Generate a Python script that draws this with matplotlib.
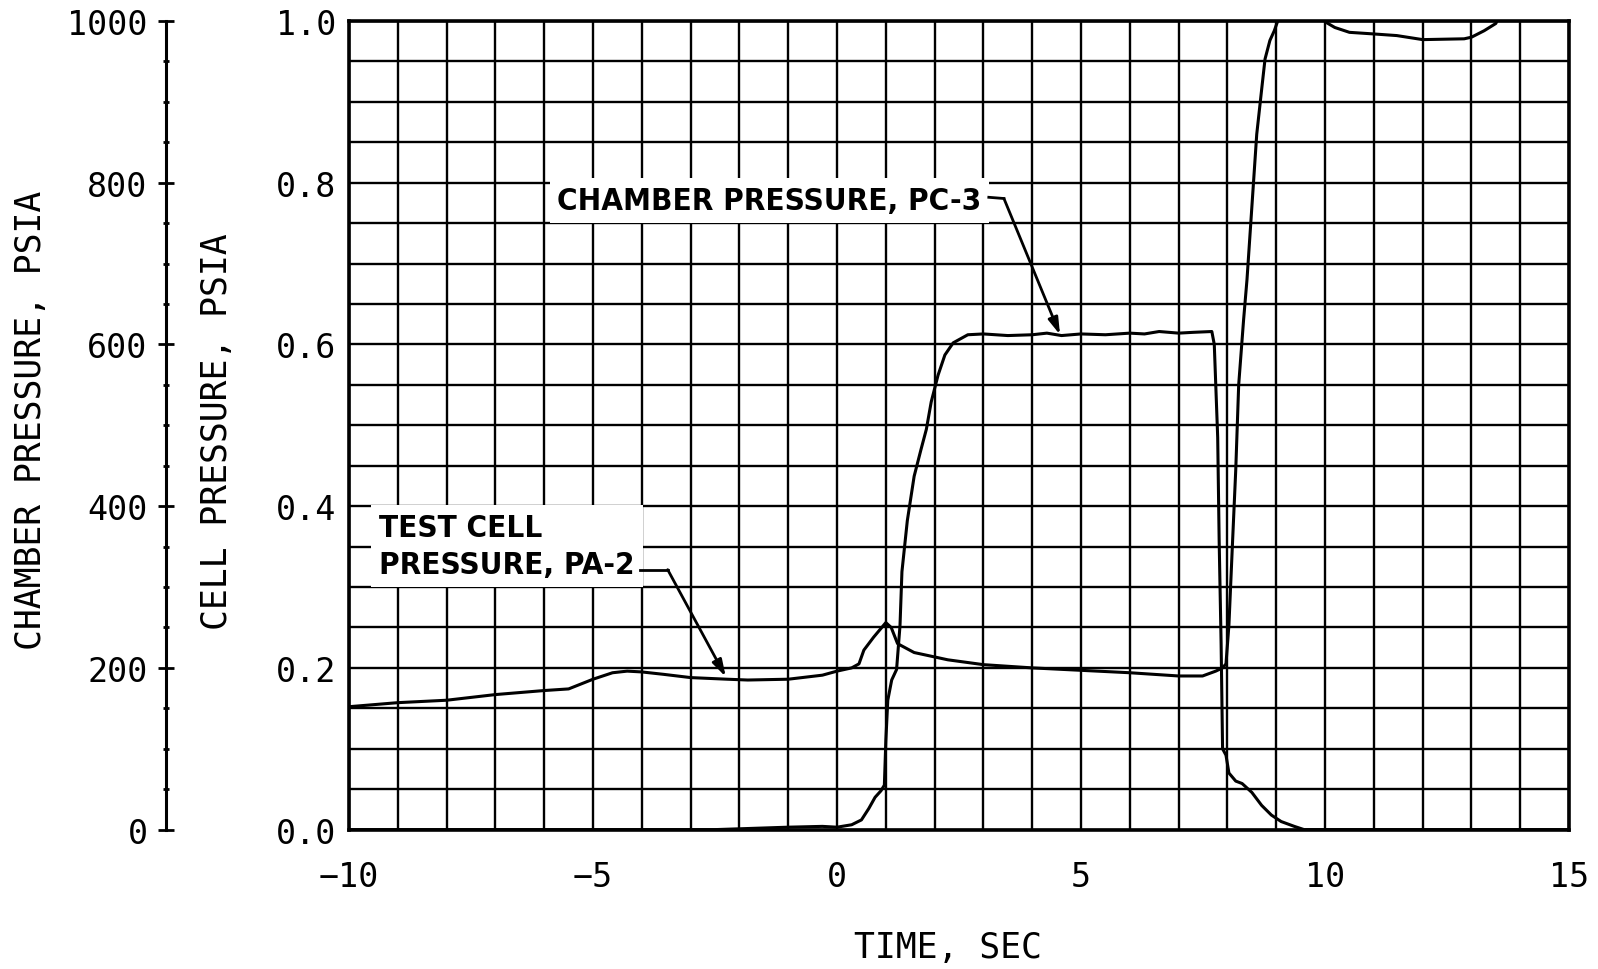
import matplotlib
matplotlib.use("Agg")
import matplotlib.pyplot as plt
from matplotlib import font_manager
from matplotlib.ticker import MultipleLocator, FormatStrFormatter

# chamber pressure PC-3 (psia)
pc_time = [-10, -2.5, -1.0, -0.3, 0.0, 0.3, 0.5, 0.65, 0.78, 0.9, 0.97, 1.0, 1.04,
           1.12, 1.22, 1.29, 1.33, 1.44, 1.58, 1.72, 1.83, 1.93, 2.07, 2.21, 2.38,
           2.68, 3.0, 3.5, 4.0, 4.3, 4.6, 5.0, 5.5, 6.0, 6.3, 6.6, 7.0, 7.3, 7.68,
           7.73, 7.8, 7.83, 7.87, 7.9, 7.97, 8.03, 8.17, 8.3, 8.5, 8.7, 8.9, 9.1,
           9.37, 9.57, 15]
pc_psia = [0, 0, 3, 4, 3, 6, 12, 26, 40, 48, 55, 110, 160,
           185, 198, 252, 319, 382, 437, 470, 495, 529, 562, 587, 602,
           612, 613, 611, 612, 614, 611, 613, 612, 614, 613, 616, 614, 615, 616,
           600, 485, 357, 230, 100, 92, 70, 60, 57, 46, 30, 18, 10,
           4, 0, 0]

# test cell pressure PA-2 (psia)
pa_time = [-10, -9, -8, -7, -6, -5.5, -5, -4.6, -4.3, -4, -3.55, -3, -2.25, -1.83,
           -1, -0.3, 0, 0.3, 0.45, 0.55, 0.75, 1.0, 1.11, 1.24, 1.58, 2.27, 3.0,
           4.0, 5.0, 6.0, 7.0, 7.49, 7.76, 7.9, 7.97, 8.03, 8.1, 8.17, 8.23, 8.33,
           8.4, 8.5, 8.6, 8.7, 8.77, 8.87, 8.96, 9.03, 9.2, 9.85, 10.03, 10.2, 10.5,
           11.0, 11.47, 12.0, 12.85, 13.0, 13.26, 13.5, 13.65, 15]
pa_psia = [0.152, 0.157, 0.160, 0.167, 0.172, 0.174, 0.186, 0.194, 0.196, 0.195,
           0.192, 0.188, 0.186, 0.185, 0.186, 0.191, 0.196, 0.200, 0.205, 0.222,
           0.238, 0.256, 0.250, 0.230, 0.219, 0.210, 0.204, 0.200, 0.197, 0.194,
           0.190, 0.190, 0.196, 0.200, 0.205, 0.253, 0.350, 0.445, 0.550, 0.630,
           0.680, 0.770, 0.860, 0.915, 0.953, 0.976, 0.988, 1.000, 1.020, 1.020,
           0.998, 0.992, 0.986, 0.984, 0.982, 0.977, 0.978, 0.980, 0.988, 0.997,
           1.020, 1.020]

mono = "DejaVu Sans Mono"

# narrow bold face for the call-outs, if one is installed
names = {f.name for f in font_manager.fontManager.ttflist}
cond = [f for f in font_manager.fontManager.ttflist
        if f.name == "DejaVu Sans" and "ondensed" in f.fname and "Bold" in f.fname
        and "Oblique" not in f.fname]
if cond:
    note_font = dict(fontfamily="DejaVu Sans", fontstretch="condensed", fontsize=22.5)
elif "Liberation Sans Narrow" in names:
    note_font = dict(fontfamily="Liberation Sans Narrow", fontsize=26)
else:
    note_font = dict(fontfamily="Liberation Sans", fontsize=22)

fig = plt.figure(figsize=(15.98, 9.70), dpi=100)
ax = fig.add_axes([0.2184, 0.1437, 0.7635, 0.8336])

ax.set_xlim(-10, 15)
ax.set_ylim(0, 1.0)
ax.xaxis.set_major_locator(MultipleLocator(5))
ax.xaxis.set_minor_locator(MultipleLocator(1))
ax.yaxis.set_major_locator(MultipleLocator(0.2))
ax.yaxis.set_minor_locator(MultipleLocator(0.05))
ax.yaxis.set_major_formatter(FormatStrFormatter("%.1f"))
ax.grid(True, which="both", color="black", linewidth=1.7)
ax.set_axisbelow(True)
ax.tick_params(which="both", length=0)
ax.tick_params(axis="x", pad=22)
ax.tick_params(axis="y", pad=9)
for lab in ax.get_xticklabels() + ax.get_yticklabels():
    lab.set_fontfamily(mono)
    lab.set_fontsize(24)
for sp in ax.spines.values():
    sp.set_linewidth(2.6)

ax.plot(pa_time, pa_psia, color="black", linewidth=2.2, zorder=3)

# chamber pressure on the far left scale
ax2 = ax.twinx()
ax2.set_ylim(0, 1000)
ax2.yaxis.set_ticks_position("left")
ax2.yaxis.set_label_position("left")
ax2.spines["left"].set_position(("axes", -0.1502))
ax2.spines["left"].set_linewidth(2.2)
for s in ["right", "top", "bottom"]:
    ax2.spines[s].set_visible(False)
ax2.yaxis.set_major_locator(MultipleLocator(200))
ax2.yaxis.set_minor_locator(MultipleLocator(50))
ax2.tick_params(axis="y", which="major", direction="inout", length=12, width=2, pad=7)
ax2.tick_params(axis="y", which="minor", direction="inout", length=5, width=2)
for lab in ax2.get_yticklabels():
    lab.set_fontfamily(mono)
    lab.set_fontsize(24)
ax2.plot(pc_time, pc_psia, color="black", linewidth=2.2, zorder=3)

fig.text(0.0192, 0.567, "CHAMBER PRESSURE, PSIA", rotation=90, ha="center",
         va="center", fontfamily=mono, fontsize=25)
fig.text(0.1358, 0.5546, "CELL PRESSURE, PSIA", rotation=90, ha="center",
         va="center", fontfamily=mono, fontsize=25)
fig.text(0.5932, 0.0227, "TIME, SEC", ha="center", va="center",
         fontfamily=mono, fontsize=25)

box = dict(boxstyle="square,pad=0.25", facecolor="white", edgecolor="none")
arrow = dict(arrowstyle="-|>,head_length=1.0,head_width=0.3", color="black",
             linewidth=2, shrinkA=0, shrinkB=0)

ax.text(-5.73, 0.778, "CHAMBER PRESSURE, PC-3", ha="left", va="center",
        fontweight="bold", bbox=box, zorder=4, **note_font)
ax.plot([3.11, 3.42], [0.782, 0.7805], color="black", linewidth=2, zorder=5)
ax.annotate("", xy=(4.57, 0.612), xytext=(3.42, 0.7805), arrowprops=arrow, zorder=5)

ax.text(-9.38, 0.351, "TEST CELL\nPRESSURE, PA-2", ha="left", va="center",
        fontweight="bold", linespacing=1.35, bbox=box, zorder=4, **note_font)
ax.plot([-4.04, -3.47], [0.3215, 0.3215], color="black", linewidth=2, zorder=5)
ax.annotate("", xy=(-2.28, 0.189), xytext=(-3.47, 0.3215), arrowprops=arrow, zorder=5)

fig.savefig("out.png", dpi=100)
